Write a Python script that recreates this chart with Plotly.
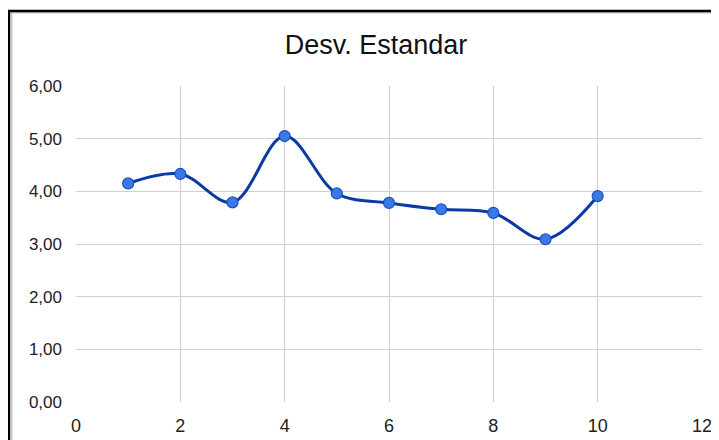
import plotly.graph_objects as go

x_vals = [1, 2, 3, 4, 5, 6, 7, 8, 9, 10]
y_vals = [4.15, 4.33, 3.79, 5.05, 3.96, 3.78, 3.66, 3.59, 3.09, 3.91]
title_text = "Desv. Estandar"
x_ticks = [0, 2, 4, 6, 8, 10, 12]
y_ticks = [0, 1, 2, 3, 4, 5, 6]

# the page body has an 8px margin, so the figure is drawn from (8, 8)
OFF = 8
W, H = 719 - OFF, 440 - OFF
PL, PT, PW, PH = 76, 86, 626, 316  # plot area in window pixels

fig = go.Figure()
fig.add_trace(go.Scatter(
    x=x_vals, y=y_vals, mode="lines+markers",
    line=dict(shape="spline", smoothing=1.0, color="#0b3aa6", width=3),
    marker=dict(size=11, color="#3a78e6", line=dict(color="#1a4fc0", width=1.2)),
    showlegend=False,
))

font_family = "Liberation Sans, Arial, sans-serif"
fig.update_layout(
    width=W, height=H,
    margin=dict(l=PL - OFF, r=W - (PL - OFF) - PW, t=PT - OFF, b=H - (PT - OFF) - PH,
                autoexpand=False),
    paper_bgcolor="white", plot_bgcolor="white",
    separators=",.",
    font=dict(family=font_family, size=16, color="#222222"),
    title=dict(text=title_text, x=(376 - OFF) / W, xref="container", xanchor="center",
               y=1 - (44.5 - OFF) / H, yref="container", yanchor="middle",
               font=dict(size=27, color="#111111", family=font_family)),
    xaxis=dict(range=[0, 12], tickvals=x_ticks, showgrid=True, gridcolor="#d0d0d0",
               gridwidth=1, zeroline=False, showline=False, ticks="", automargin=False,
               tickfont=dict(size=18), ticklabelstandoff=11, fixedrange=True),
    yaxis=dict(range=[0, 6], tickvals=y_ticks, tickformat=".2f", showgrid=True,
               gridcolor="#d0d0d0", gridwidth=1, zeroline=False, showline=False,
               ticks="", automargin=False, tickfont=dict(size=17),
               ticklabelstandoff=13, fixedrange=True),
)

# outer chart border (black, with grey inner line), in window pixels
def px_x(p):
    return (p - PL) / PW
def px_y(p):
    return (PT + PH - p) / PH

fig.add_shape(type="rect", xref="paper", yref="paper",
              x0=px_x(11.7), x1=px_x(760), y0=px_y(480), y1=px_y(12.8),
              line=dict(color="#c8c8c8", width=1.5), layer="below")
fig.add_shape(type="rect", xref="paper", yref="paper",
              x0=px_x(9), x1=px_x(760), y0=px_y(480), y1=px_y(11),
              line=dict(color="#000000", width=2.5), layer="below")

fig.write_html("out.html")
